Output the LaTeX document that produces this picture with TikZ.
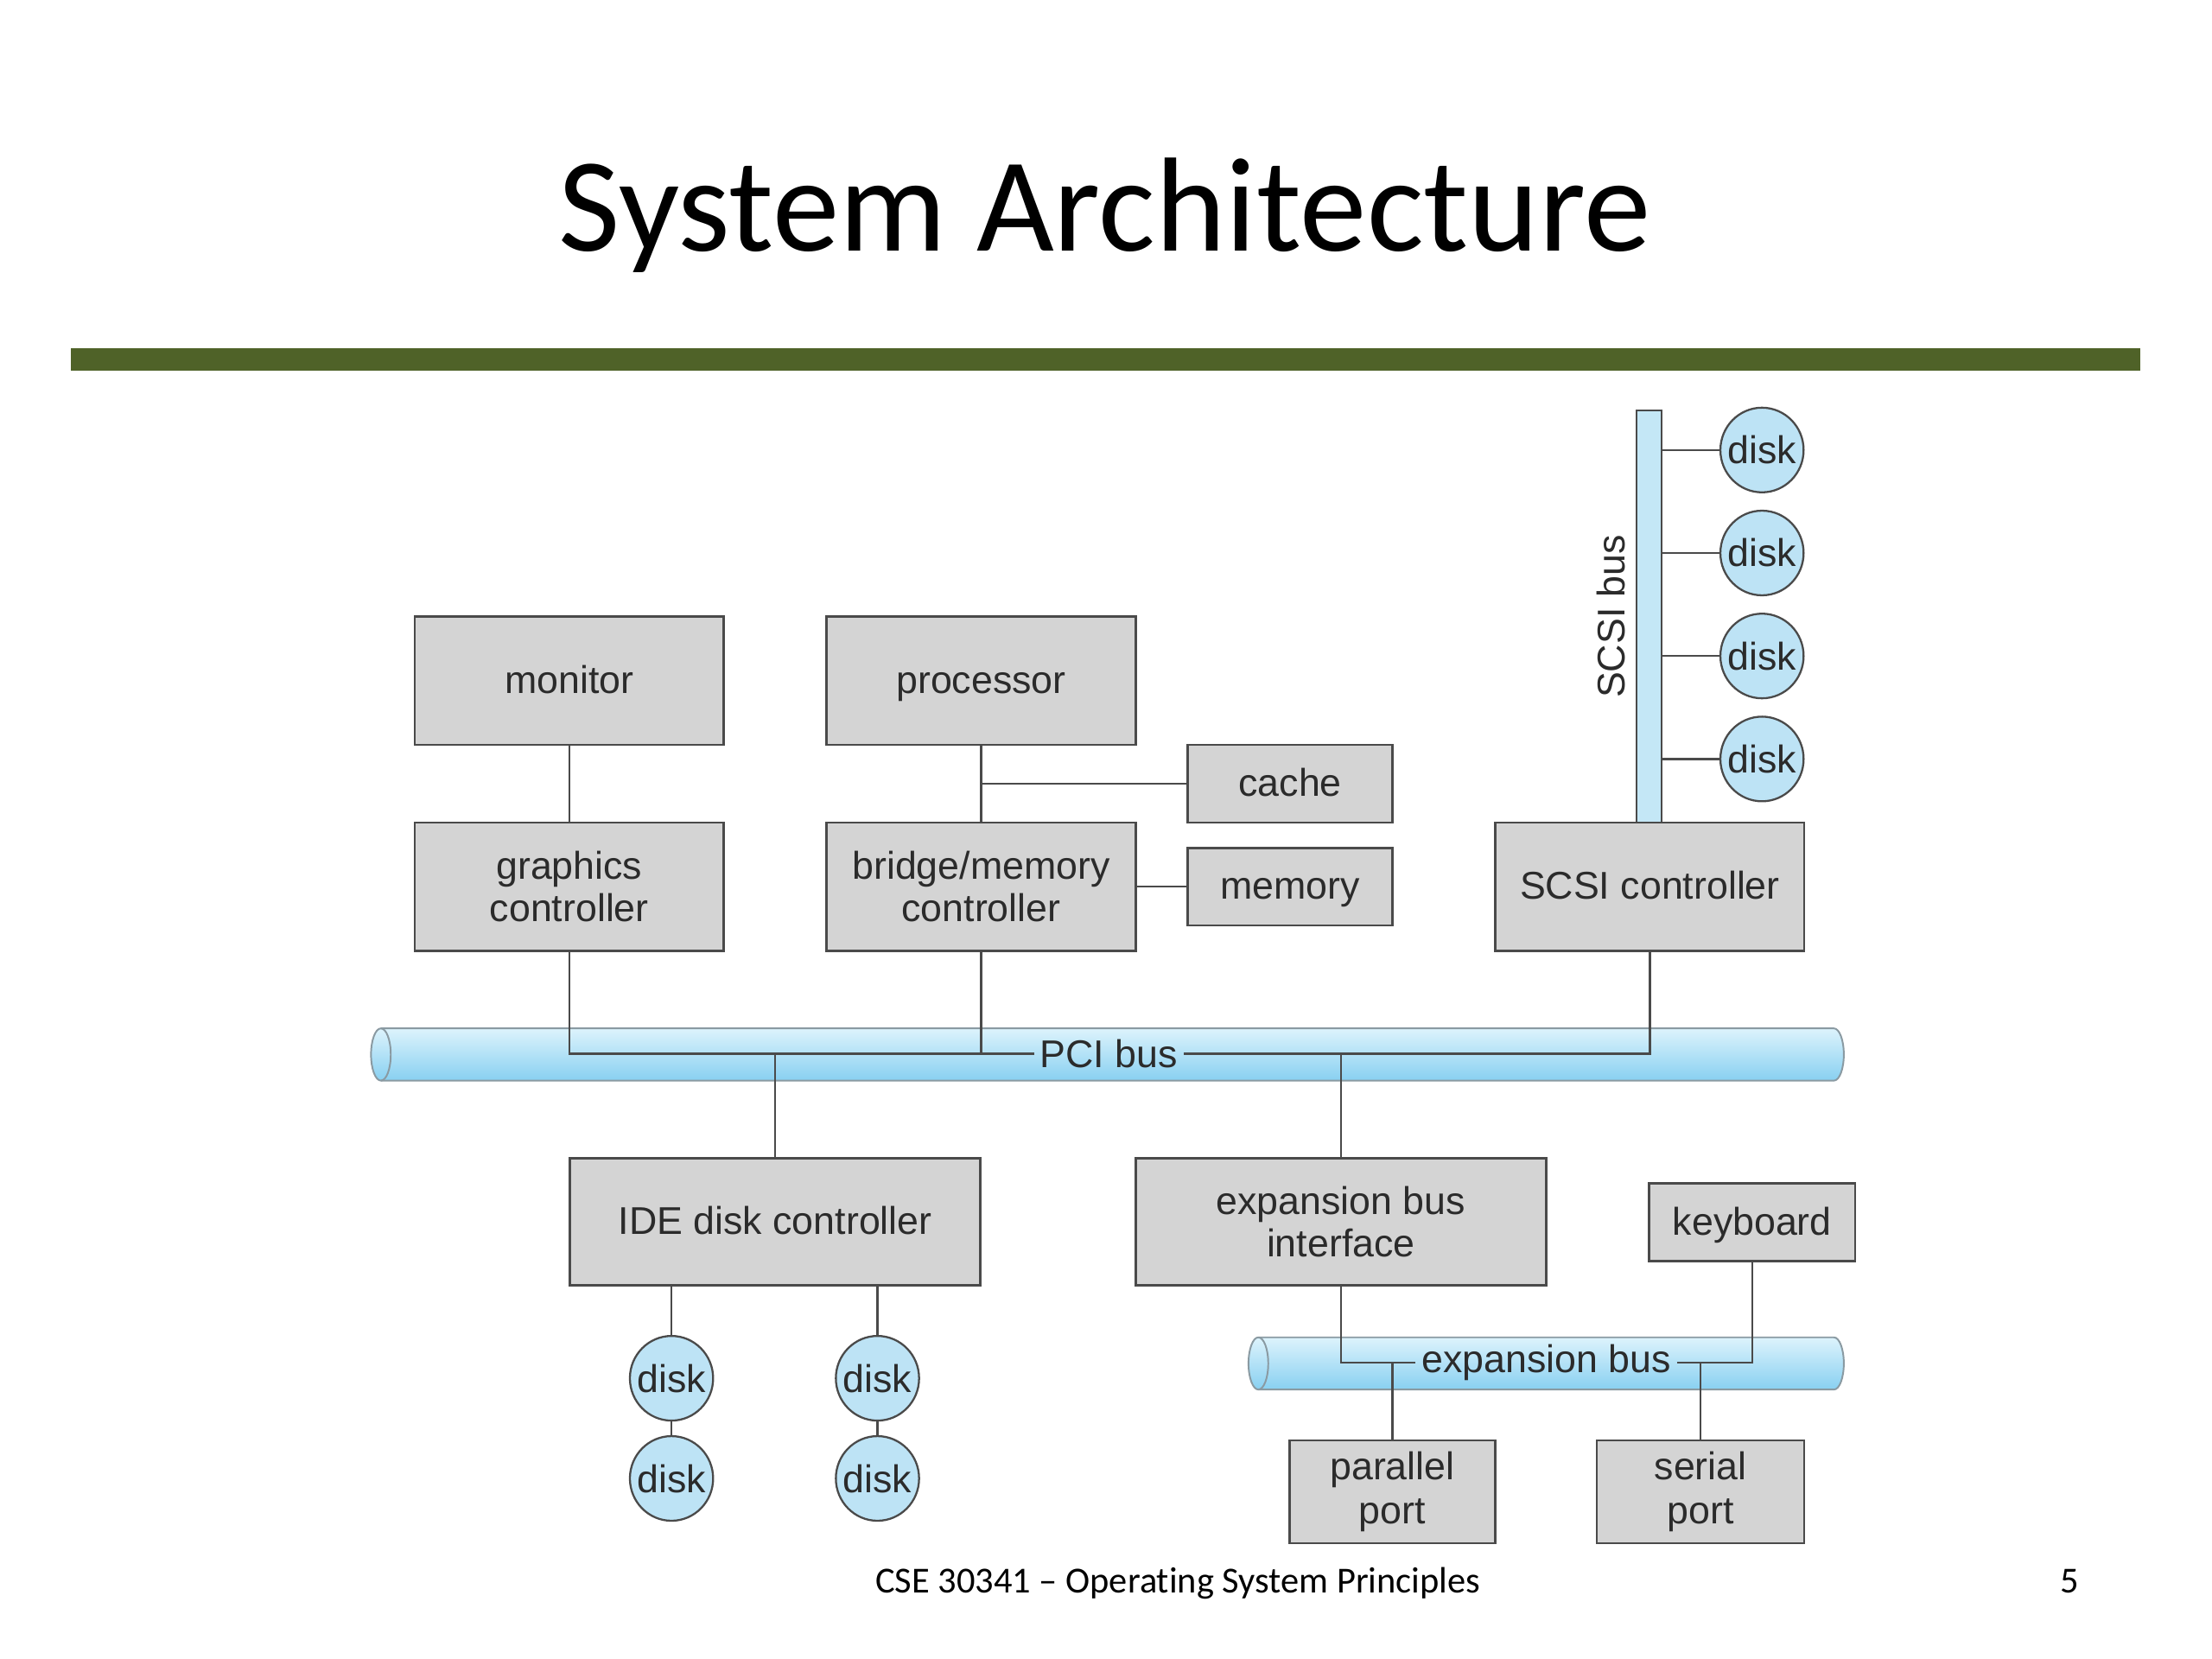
\documentclass[tikz,border=0pt]{standalone}
\usepackage{fontspec}
\setmainfont{Liberation Sans}
\newfontfamily\slidefont[Ligatures=CommonOff]{Carlito}
\usetikzlibrary{shapes.geometric,calc}
\definecolor{boxfill}{HTML}{D4D4D4}
\definecolor{boxline}{HTML}{4A4A4A}
\definecolor{wire}{HTML}{4A4A4A}
\definecolor{diskfill}{HTML}{BDE3F5}
\definecolor{bustop}{HTML}{DDF3FC}
\definecolor{busbot}{HTML}{88D0F1}
\definecolor{busline}{HTML}{8A9AA2}
\definecolor{barfill}{HTML}{C4E7F6}
\definecolor{olive}{HTML}{4F6228}
\definecolor{txt}{HTML}{2B2B2B}
\tikzset{
  hw/.style={draw=boxline, line width=0.8pt, fill=boxfill, text=txt,
    font=\fontsize{13.7}{15}\selectfont, align=center, inner sep=0pt,
    minimum width=#1},
  hw/.default=109.5pt,
  oneline/.style={text height=10.5pt, text depth=1.5pt},
  disk/.style={ellipse, draw=boxline, line width=0.7pt, fill=diskfill,
    text=txt, font=\fontsize{13.7}{15}\selectfont, inner sep=0pt,
    minimum width=29.5pt, minimum height=30pt},
  wirestyle/.style={draw=wire, line width=0.75pt},
  buslabel/.style={text=txt, font=\fontsize{13.7}{15}\selectfont, inner xsep=2pt, inner ysep=0pt},
  cyl/.style={top color=bustop, bottom color=busbot, draw=busline, line width=0.6pt},
}
\newcommand{\disktext}{\makebox[0pt]{disk}}
\begin{document}
\begin{tikzpicture}[x=0.5pt, y=-0.5pt]
\useasboundingbox (0,0) rectangle (1568,1176);
\fill[white] (0,0) rectangle (1568,1176);

% title and rule
\node[anchor=base, font=\slidefont\fontsize{47.5}{50}\selectfont, inner sep=0pt] (title) at (783,178) {System Architecture};
\fill[olive] (50,247) rectangle (1517,263);

% PCI bus cylinder
\shade[cyl]
  (270,729) -- (1300,729) arc[start angle=90, end angle=-90, x radius=3.5pt, y radius=9.25pt]
  -- (270,766) arc[start angle=270, end angle=90, x radius=3.5pt, y radius=9.25pt] -- cycle;
\draw[busline, line width=0.6pt] (270,729) arc[start angle=90, end angle=-90, x radius=3.5pt, y radius=9.25pt];
% expansion bus cylinder
\shade[cyl]
  (892,948) -- (1300,948) arc[start angle=90, end angle=-90, x radius=3.5pt, y radius=9.25pt]
  -- (892,985) arc[start angle=270, end angle=90, x radius=3.5pt, y radius=9.25pt] -- cycle;
\draw[busline, line width=0.6pt] (892,948) arc[start angle=90, end angle=-90, x radius=3.5pt, y radius=9.25pt];

% SCSI bus bar
\node[draw=boxline, line width=0.6pt, fill=barfill, minimum width=9pt, minimum height=146pt, inner sep=0pt] (scsibus) at (1169,437) {};
\node[rotate=90, buslabel] (scsilbl) at (1142,437) {SCSI bus};

% boxes
\node[hw, oneline, minimum height=45.5pt] (monitor) at (403.5,482.5) {monitor};
\node[hw, oneline, minimum height=45.5pt] (proc) at (695.5,482.5) {processor};
\node[hw=72.5pt, oneline, minimum height=27.5pt] (cache) at (914.5,555.5) {cache};
\node[hw, minimum height=45.5pt] (gc) at (403.5,628.5) {graphics\\controller};
\node[hw, minimum height=45.5pt] (bmc) at (695.5,628.5) {bridge/memory\\controller};
\node[hw=72.5pt, oneline, minimum height=27.5pt] (mem) at (914.5,628.5) {memory};
\node[hw, oneline, minimum height=45.5pt] (scsi) at (1169.5,628.5) {SCSI controller};
\node[hw=145.5pt, oneline, minimum height=45pt] (ide) at (549.5,866) {IDE disk controller};
\node[hw=145.5pt, minimum height=45pt] (ebi) at (950.5,866) {expansion bus\\interface};
\node[hw=73pt, oneline, minimum height=27.5pt] (kbd) at (1242,866.5) {keyboard};
\node[hw=73pt, minimum height=36.5pt, font=\fontsize{13.7}{15.5}\selectfont] (pp) at (987,1057.5) {parallel\\port};
\node[hw=73.5pt, minimum height=36.5pt, font=\fontsize{13.7}{15.5}\selectfont] (sp) at (1205.5,1057.5) {serial\\port};

% disks
\node[disk] (s1) at (1249,319) {\disktext};
\node[disk] (s2) at (1249,392) {\disktext};
\node[disk] (s3) at (1249,465) {\disktext};
\node[disk] (s4) at (1249,538) {\disktext};
\node[disk] (i1) at (476,977) {\disktext};
\node[disk] (i2) at (476,1048) {\disktext};
\node[disk] (i3) at (622,977) {\disktext};
\node[disk] (i4) at (622,1048) {\disktext};

% bus labels
\node[buslabel] (pcilbl) at (786,747) {PCI bus};
\node[buslabel] (explbl) at (1096,966) {expansion bus};

% connectors
\draw[wirestyle] (monitor.south) -- (gc.north);
\draw[wirestyle] (proc.south) -- (bmc.north);
\draw[wirestyle] (cache.west) -- (cache.west -| proc.south);
\draw[wirestyle] (bmc.east) -- (mem.west);
\foreach \d in {s1,s2,s3,s4} \draw[wirestyle] (\d.west) -- (\d.west -| scsibus.east);

\draw[wirestyle] (gc.south) |- (pcilbl.west);
\draw[wirestyle] (bmc.south) -- (bmc.south |- pcilbl.west);
\draw[wirestyle] (pcilbl.east) -| (scsi.south);
\draw[wirestyle] (ide.north) -- (ide.north |- pcilbl.west);
\draw[wirestyle] (ebi.north) -- (ebi.north |- pcilbl.west);

\draw[wirestyle] (i1.north) -- (i1.north |- ide.south);
\draw[wirestyle] (i3.north) -- (i3.north |- ide.south);
\draw[wirestyle] (i1.south) -- (i2.north);
\draw[wirestyle] (i3.south) -- (i4.north);

\draw[wirestyle] (ebi.south) |- (explbl.west);
\draw[wirestyle] (explbl.east) -| (kbd.south);
\draw[wirestyle] (pp.north) -- (pp.north |- explbl.west);
\draw[wirestyle] (sp.north) -- (sp.north |- explbl.west);

% footer
\node[anchor=base, font=\slidefont\fontsize{13}{15}\selectfont, inner sep=0pt] (footer) at (835,1129) {CSE 30341 – Operating System Principles};
\node[anchor=base, font=\slidefont\fontsize{13}{15}\selectfont, inner sep=0pt] (pagenum) at (1467,1129) {5};
\end{tikzpicture}
\end{document}
